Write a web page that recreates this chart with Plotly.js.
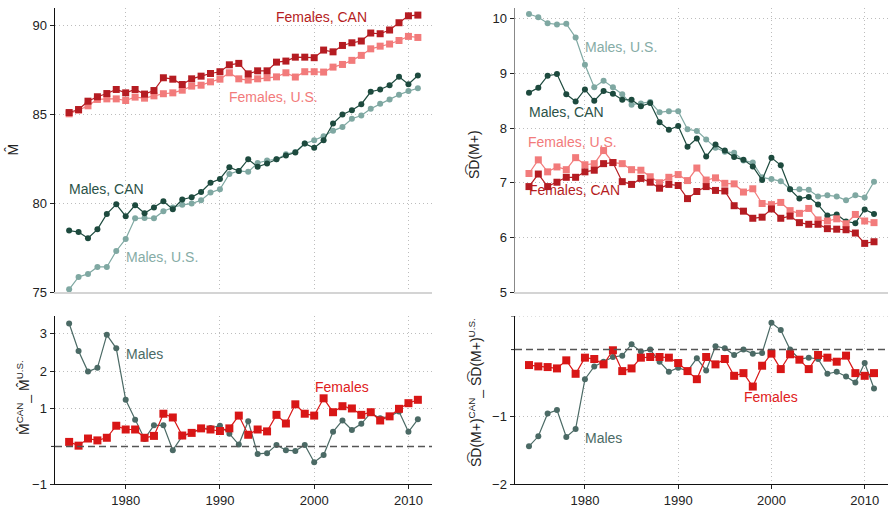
<!DOCTYPE html>
<html>
<head>
<meta charset="utf-8">
<script src="https://cdn.plot.ly/plotly-3.0.1.min.js"></script>
<style>html,body{margin:0;padding:0;background:#fff;}#chart{width:889px;height:507px;}</style>
</head>
<body>
<div id="chart"></div>
<script>
const years = [1974,1975,1976,1977,1978,1979,1980,1981,1982,1983,1984,1985,1986,1987,1988,1989,1990,1991,1992,1993,1994,1995,1996,1997,1998,1999,2000,2001,2002,2003,2004,2005,2006,2007,2008,2009,2010,2011];

// Top-left: M-hat
const mFemCAN = [85.11,85.28,85.75,86.0,86.18,86.41,86.22,86.41,86.15,86.35,87.07,86.99,86.69,87.01,87.16,87.31,87.41,87.80,87.88,87.29,87.46,87.46,87.95,88.01,88.23,88.23,88.20,88.63,88.53,88.89,89.04,89.14,89.59,89.55,89.76,90.17,90.56,90.60];
const mFemUS = [85.04,85.24,85.49,85.85,85.88,85.88,85.79,85.98,85.92,86.05,86.17,86.22,86.37,86.60,86.65,86.84,86.99,87.35,87.01,86.94,87.01,87.07,87.12,87.35,87.11,87.41,87.41,87.39,87.67,87.82,88.05,88.33,88.70,88.85,88.97,89.17,89.40,89.34];
const mMalCAN = [78.46,78.38,78.03,78.53,79.40,79.94,79.27,79.89,79.44,79.76,80.11,79.66,80.21,80.34,80.64,81.15,81.37,82.03,81.82,82.48,82.05,82.24,82.48,82.69,82.86,83.36,83.12,83.55,84.49,85.0,85.24,85.58,86.28,86.41,86.65,87.12,86.71,87.20];
const mMalUS = [75.15,75.85,76.02,76.41,76.41,77.31,77.99,79.15,79.17,79.15,79.55,79.76,79.91,79.98,80.17,80.60,80.79,81.65,81.82,81.77,82.27,82.41,82.48,82.76,82.89,83.36,83.55,83.78,84.08,84.30,84.76,84.94,85.32,85.60,85.85,86.11,86.32,86.48];

// Top-right: SD(M+)
const sdMalUS = [10.09,10.03,9.92,9.90,9.91,9.66,9.16,8.75,8.87,8.75,8.62,8.43,8.45,8.48,8.29,8.31,8.31,7.98,7.95,7.79,7.64,7.57,7.55,7.41,7.37,7.10,7.07,7.03,6.88,6.88,6.87,6.75,6.77,6.75,6.68,6.77,6.73,7.02];
const sdMalCAN = [8.65,8.74,8.96,8.99,8.62,8.49,8.71,8.50,8.68,8.63,8.52,8.52,8.40,8.46,8.11,7.97,8.04,7.66,7.81,7.48,7.70,7.59,7.47,7.42,7.30,7.05,7.46,7.32,6.88,6.71,6.74,6.60,6.40,6.42,6.29,6.26,6.51,6.43];
const sdFemUS = [7.17,7.42,7.20,7.29,7.24,7.46,7.33,7.35,7.59,7.37,7.35,7.24,7.23,7.11,7.00,7.10,7.15,7.04,7.27,7.05,7.09,6.99,6.98,6.83,6.89,6.62,6.60,6.64,6.49,6.44,6.53,6.32,6.30,6.34,6.25,6.42,6.30,6.27];
const sdFemCAN = [6.93,7.16,6.93,7.01,7.10,7.10,7.20,7.23,7.35,7.37,7.02,6.97,7.08,7.01,6.90,6.97,6.95,6.71,6.84,6.93,6.86,6.85,6.58,6.48,6.35,6.37,6.52,6.35,6.39,6.27,6.24,6.24,6.16,6.15,6.14,6.08,5.89,5.92];

// Bottom-left: M-hat CAN - U.S.
const dMMales = [3.27,2.54,1.99,2.09,2.97,2.61,1.24,0.71,0.20,0.56,0.56,-0.10,0.27,0.36,0.47,0.49,0.55,0.34,0.05,0.67,-0.20,-0.18,0.04,-0.10,-0.12,0.04,-0.42,-0.23,0.39,0.69,0.44,0.60,0.89,0.75,0.80,0.93,0.39,0.72];
const dMFemales = [0.12,0.02,0.21,0.16,0.23,0.55,0.45,0.45,0.23,0.28,0.87,0.77,0.29,0.36,0.48,0.45,0.41,0.48,0.82,0.31,0.45,0.40,0.84,0.61,1.12,0.87,0.82,1.28,0.91,1.07,1.01,0.84,0.91,0.69,0.80,1.00,1.15,1.24];

// Bottom-right: SD(M+) CAN - U.S.
const dSDMales = [-1.44,-1.29,-0.95,-0.90,-1.30,-1.18,-0.44,-0.25,-0.18,-0.11,-0.09,0.08,-0.03,0.00,-0.18,-0.33,-0.27,-0.32,-0.13,-0.31,0.05,0.02,-0.08,0.0,-0.06,-0.05,0.40,0.29,0.0,-0.14,-0.12,-0.14,-0.36,-0.33,-0.40,-0.49,-0.20,-0.58];
const dSDFemales = [-0.23,-0.25,-0.26,-0.28,-0.16,-0.36,-0.12,-0.14,-0.22,-0.01,-0.32,-0.28,-0.12,-0.11,-0.11,-0.12,-0.20,-0.32,-0.44,-0.11,-0.22,-0.14,-0.39,-0.35,-0.55,-0.24,-0.06,-0.29,-0.07,-0.15,-0.29,-0.08,-0.12,-0.18,-0.09,-0.35,-0.39,-0.35];

const xTicks = [1980,1990,2000,2010];

const cFemCAN = '#b51c22', cFemUS = '#f27b7b', cMalCAN = '#1d4a3e', cMalUS = '#7fa8a2';
const cFemD = '#d81616', cMalD = '#4b6a65';

function tr(y, color, sym, size, xa, ya) {
  return {x: years, y: y, xaxis: xa, yaxis: ya, type: 'scatter', mode: 'lines+markers',
    line: {color: color, width: 1.2}, marker: {color: color, symbol: sym, size: size},
    hoverinfo: 'skip', showlegend: false};
}

const data = [
  tr(mMalUS, cMalUS, 'circle', 6, 'x', 'y'),
  tr(mMalCAN, cMalCAN, 'circle', 6, 'x', 'y'),
  tr(mFemUS, cFemUS, 'square', 7, 'x', 'y'),
  tr(mFemCAN, cFemCAN, 'square', 7, 'x', 'y'),
  tr(sdMalUS, cMalUS, 'circle', 6, 'x2', 'y2'),
  tr(sdMalCAN, cMalCAN, 'circle', 6, 'x2', 'y2'),
  tr(sdFemUS, cFemUS, 'square', 7, 'x2', 'y2'),
  tr(sdFemCAN, cFemCAN, 'square', 7, 'x2', 'y2'),
  tr(dMMales, cMalD, 'circle', 6, 'x3', 'y3'),
  tr(dMFemales, cFemD, 'square', 8, 'x3', 'y3'),
  tr(dSDMales, cMalD, 'circle', 6, 'x4', 'y4'),
  tr(dSDFemales, cFemD, 'square', 8, 'x4', 'y4')
];

const W = 889, H = 507;
const px = v => v / W, py = v => (H - v) / H;
const DOT = '1px,3px';
const grid = {showgrid: true, gridcolor: '#bdbdbd', griddash: DOT, gridwidth: 1, zeroline: false};
const tickFont = {family: 'Liberation Sans, Arial, sans-serif', size: 13, color: '#222'};

function xAxis(dom, anchor, bottom, lineColor) {
  return Object.assign({}, grid, {
    domain: dom, anchor: anchor, range: [1972.5, 2012.5], tickvals: xTicks,
    showticklabels: bottom, ticks: bottom ? 'outside' : '', ticklen: 4, tickcolor: '#222',
    showline: true, linecolor: lineColor, linewidth: bottom ? 1.3 : 2, tickfont: tickFont
  });
}
function yAxis(dom, anchor, range, tv, lineColor) {
  return Object.assign({}, grid, {
    domain: dom, anchor: anchor, range: range, tickvals: tv,
    ticks: 'outside', ticklen: 4, tickcolor: '#222', showline: true, linecolor: lineColor,
    linewidth: 1.5, tickfont: tickFont
  });
}

const xL = [px(55), px(432)], xR = [px(515), px(888)];
const yT = [py(292), py(8)], yB = [py(484), py(316)];

const annFont = (c) => ({family: 'Liberation Sans, Arial, sans-serif', size: 14, color: c});
function lab(text, x, y, xr, yr, c) {
  return {text: text, x: x, y: y, xref: xr, yref: yr, showarrow: false, font: annFont(c), xanchor: 'center', yanchor: 'middle'};
}
function ytitle(text, x, y) {
  return {text: text, x: px(x), y: py(y), xref: 'paper', yref: 'paper', showarrow: false, textangle: -90,
    font: {family: 'Liberation Sans, Arial, DejaVu Sans, sans-serif', size: 14, color: '#222'}, xanchor: 'center', yanchor: 'middle'};
}
// unlabeled tick marks
function tickMark(xa, ya, v) {
  return {type: 'line', xref: xa + ' domain', yref: ya, xsizemode: 'pixel', xanchor: 0, x0: -4, x1: 0, y0: v, y1: v,
    line: {color: '#222', width: 1}};
}

const sdHat = 'S\u0361D(M+)';

const layout = {
  width: W, height: H, margin: {l: 0, r: 0, t: 0, b: 0},
  paper_bgcolor: '#fff', plot_bgcolor: '#fff', showlegend: false,
  font: {family: 'Liberation Sans, Arial, sans-serif'},
  xaxis: xAxis(xL, 'y', false, '#d4d4d4'),
  yaxis: yAxis(yT, 'x', [75, 91], [75, 80, 85, 90], '#111'),
  xaxis2: xAxis(xR, 'y2', false, '#d4d4d4'),
  yaxis2: yAxis(yT, 'x2', [5, 10.2], [5, 6, 7, 8, 9, 10], '#888'),
  xaxis3: xAxis(xL, 'y3', true, '#111'),
  yaxis3: yAxis(yB, 'x3', [-1, 3.47], [-1, 1, 2, 3], '#111'),
  xaxis4: xAxis(xR, 'y4', true, '#111'),
  yaxis4: yAxis(yB, 'x4', [-2, 0.5], [-2, -1], '#111'),
  shapes: [
    {type: 'line', xref: 'x4 domain', yref: 'y4', x0: 0, x1: 1, y0: 0.5, y1: 0.5, layer: 'below', line: {color: '#bdbdbd', width: 1, dash: DOT}},
    {type: 'line', xref: 'x3 domain', yref: 'y3', x0: 0, x1: 1, y0: 0, y1: 0, line: {color: '#555', width: 1.5, dash: '7px,4px'}},
    {type: 'line', xref: 'x4 domain', yref: 'y4', x0: 0, x1: 1, y0: 0, y1: 0, line: {color: '#555', width: 1.5, dash: '7px,4px'}},
    tickMark('x3', 'y3', 0),
    tickMark('x4', 'y4', 0),
    tickMark('x4', 'y4', 0.5)
  ],
  annotations: [
    lab('Females, CAN', 2000.8, 90.51, 'x', 'y', cFemCAN),
    lab('Females, U.S.', 1995.7, 85.99, 'x', 'y', cFemUS),
    lab('Males, CAN', 1978.0, 80.83, 'x', 'y', '#2b5247'),
    lab('Males, U.S.', 1983.9, 76.97, 'x', 'y', '#86aca6'),
    lab('Males, U.S.', 1983.9, 9.49, 'x2', 'y2', '#86aca6'),
    lab('Males, CAN', 1978.0, 8.29, 'x2', 'y2', '#2b5247'),
    lab('Females, U.S.', 1978.7, 7.755, 'x2', 'y2', cFemUS),
    lab('Females, CAN', 1978.9, 6.87, 'x2', 'y2', cFemCAN),
    lab('Males', 1982.0, 2.47, 'x3', 'y3', '#4b6a65'),
    lab('Females', 2002.9, 1.59, 'x3', 'y3', '#e0201c'),
    lab('Males', 1982.0, -1.31, 'x4', 'y4', '#4b6a65'),
    lab('Females', 2000.0, -0.70, 'x4', 'y4', '#e0201c'),
    ytitle('M\u0302', 12.5, 150),
    ytitle(sdHat, 473, 155),
    ytitle('M\u0302<sup>CAN</sup>_ M\u0302<sup>U.S.</sup>', 23, 398),
    ytitle(sdHat + '<sup>CAN</sup>_ ' + sdHat + '<sup>U.S.</sup>', 475, 393)
  ]
};

Plotly.newPlot('chart', data, layout, {staticPlot: true, displayModeBar: false});
</script>
</body>
</html>
